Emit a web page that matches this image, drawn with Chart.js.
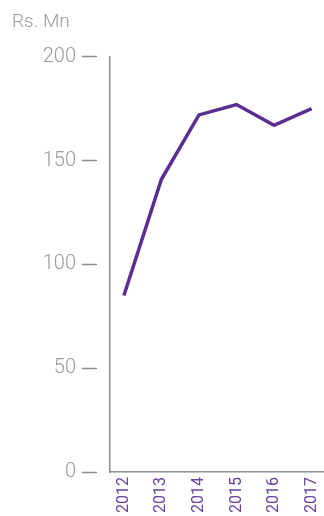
<!DOCTYPE html>
<html>
<head>
<meta charset="utf-8">
<script src="https://cdn.jsdelivr.net/npm/chart.js@4/dist/chart.umd.min.js"></script>
<style>
  html, body { margin: 0; padding: 0; background: #ffffff; }
  #wrap { width: 324px; height: 516px; position: relative; }
</style>
</head>
<body>
<div id="wrap"><canvas id="chart"></canvas></div>
<script>
// Yearly figures in Rs. Mn
const years = [2012, 2013, 2014, 2015, 2016, 2017];
const values = [85, 141, 172, 177, 167, 175];
const yTicks = [0, 50, 100, 150, 200];
const unitLabel = 'Rs. Mn';

const purple = '#5c2d91';
const labelPurple = '#6a3f9e';
const grey = '#9a9a9a';
const axisGrey = '#8c8c8c';

const points = years.map((y, i) => ({ x: y, y: values[i] }));

new Chart(document.getElementById('chart'), {
  type: 'line',
  data: {
    datasets: [{
      data: points,
      borderColor: purple,
      borderWidth: 3.5,
      pointRadius: 0,
      tension: 0,
      fill: false
    }]
  },
  options: {
    responsive: true,
    maintainAspectRatio: false,
    animation: false,
    layout: { padding: { left: 12, right: 0, top: 0, bottom: 0 } },
    plugins: {
      legend: { display: false },
      tooltip: { enabled: false },
      title: {
        display: true,
        text: unitLabel,
        align: 'start',
        color: grey,
        font: { family: 'Roboto', size: 19, weight: '300' },
        padding: { top: 11, bottom: 23 }
      }
    },
    scales: {
      x: {
        type: 'linear',
        min: 2011.63,
        max: 2017.33,
        afterBuildTicks: (scale) => { scale.ticks = years.map(v => ({ value: v })); },
        afterFit: (scale) => {
          scale.height = 44;
          scale.paddingLeft = 0;
          scale.paddingRight = 0;
        },
        grid: { display: false, drawTicks: false },
        border: { display: true, color: axisGrey, width: 1.5 },
        ticks: {
          autoSkip: false,
          minRotation: 90,
          maxRotation: 90,
          padding: 5,
          color: labelPurple,
          font: { family: 'Roboto', size: 16 },
          callback: (v) => String(v)
        }
      },
      y: {
        min: 0,
        max: 200,
        afterBuildTicks: (scale) => { scale.ticks = yTicks.map(v => ({ value: v })); },
        afterFit: (scale) => { scale.width = 98; },
        grid: {
          display: true,
          drawOnChartArea: false,
          drawTicks: true,
          tickLength: 28,
          tickColor: axisGrey,
          tickWidth: 1.5,
          tickBorderDash: [15, 40]
        },
        border: { display: true, color: axisGrey, width: 1.5 },
        ticks: {
          padding: 6,
          color: grey,
          font: { family: 'Roboto', size: 20, weight: '300' }
        }
      }
    }
  }
});
</script>
</body>
</html>
